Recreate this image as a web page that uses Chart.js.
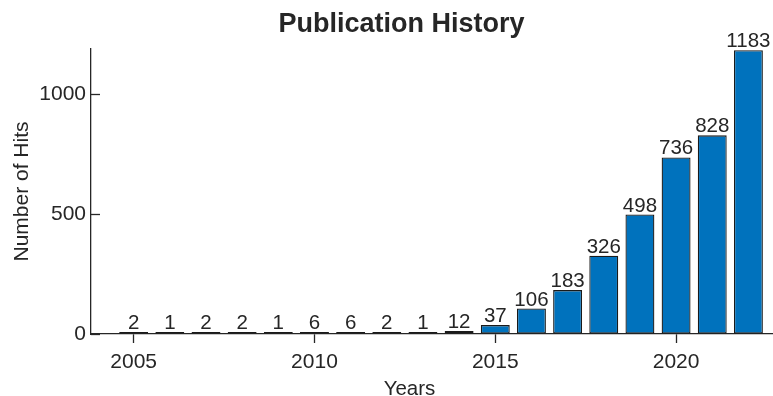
<!DOCTYPE html>
<html>
<head>
<meta charset="utf-8">
<script src="https://cdn.jsdelivr.net/npm/chart.js@4"></script>
<style>
  html, body { margin: 0; padding: 0; background: #fff; }
  #wrap { width: 773px; height: 396px; }
</style>
</head>
<body>
<div id="wrap"><canvas id="myChart" width="773" height="396"></canvas></div>
<script>
// data
const years = [2005, 2006, 2007, 2008, 2009, 2010, 2011, 2012, 2013, 2014, 2015, 2016, 2017, 2018, 2019, 2020, 2021, 2022];
const hits = [2, 1, 2, 2, 1, 6, 6, 2, 1, 12, 37, 106, 183, 326, 498, 736, 828, 1183];
const yTicks = [0, 500, 1000];
const xTicks = [2005, 2010, 2015, 2020];

const ink = '#262626';
const fontFam = '"Liberation Sans", Arial, Helvetica, sans-serif';

// bar values on top + title + inward y ticks
const extras = {
  id: 'extras',
  afterDatasetsDraw(chart) {
    const ctx = chart.ctx;
    const meta = chart.getDatasetMeta(0);
    ctx.save();
    ctx.fillStyle = ink;
    ctx.font = '20.5px ' + fontFam;
    ctx.textAlign = 'center';
    ctx.textBaseline = 'alphabetic';
    meta.data.forEach((bar, i) => {
      ctx.fillText(String(hits[i]), bar.x, bar.y - 3);
    });
    ctx.restore();
  },
  afterDraw(chart) {
    const ctx = chart.ctx;
    const y = chart.scales.y;
    const area = chart.chartArea;
    ctx.save();
    ctx.strokeStyle = ink;
    ctx.lineWidth = 1.3;
    yTicks.forEach(v => {
      const py = Math.round(y.getPixelForValue(v)) + 0.5;
      ctx.beginPath();
      ctx.moveTo(area.left, py);
      ctx.lineTo(area.left + 9, py);
      ctx.stroke();
    });
    ctx.fillStyle = ink;
    ctx.textAlign = 'center';
    ctx.textBaseline = 'alphabetic';
    ctx.font = 'bold 27px ' + fontFam;
    ctx.fillText('Publication History', 401.5, 31.5);
    ctx.font = '20.5px ' + fontFam;
    ctx.fillText('Years', 409.5, 395);
    ctx.restore();
  }
};

const ctx = document.getElementById('myChart');

new Chart(ctx, {
  type: 'bar',
  data: {
    labels: years,
    datasets: [{
      data: hits,
      backgroundColor: '#0072BD',
      borderColor: '#1a1a1a',
      borderWidth: 1.3,
      borderSkipped: false,
      barPercentage: 0.8,
      categoryPercentage: 1,
      minBarLength: 2
    }]
  },
  options: {
    responsive: false,
    animation: false,
    layout: { padding: { top: 49, left: 0, right: 0, bottom: 0 } },
    plugins: {
      legend: { display: false },
      tooltip: { enabled: false }
    },
    scales: {
      x: {
        type: 'linear',
        offset: false,
        min: 2003.82,
        max: 2022.68,
        afterBuildTicks: (scale) => { scale.ticks = xTicks.map(v => ({ value: v })); },
        afterFit: (scale) => { scale.height = 62; },
        ticks: {
          color: ink,
          font: { family: fontFam, size: 21 },
          padding: 7,
          maxRotation: 0,
          callback: (v) => String(v)
        },
        grid: {
          offset: false,
          drawOnChartArea: false,
          tickLength: 9,
          tickColor: ink,
          tickWidth: 1.3
        },
        border: { color: ink, width: 1.3 }
      },
      y: {
        min: 0,
        max: 1188,
        afterBuildTicks: (scale) => { scale.ticks = yTicks.map(v => ({ value: v })); },
        afterFit: (scale) => { scale.width = 91; },
        ticks: {
          color: ink,
          font: { family: fontFam, size: 21 },
          padding: 5,
          callback: (v) => String(v)
        },
        grid: { drawOnChartArea: false, drawTicks: false },
        border: { color: ink, width: 1.3 },
        title: {
          display: true,
          text: 'Number of Hits',
          color: ink,
          font: { family: fontFam, size: 21 },
          padding: { top: 10, bottom: 0 }
        }
      }
    }
  },
  plugins: [extras]
});
</script>
</body>
</html>
